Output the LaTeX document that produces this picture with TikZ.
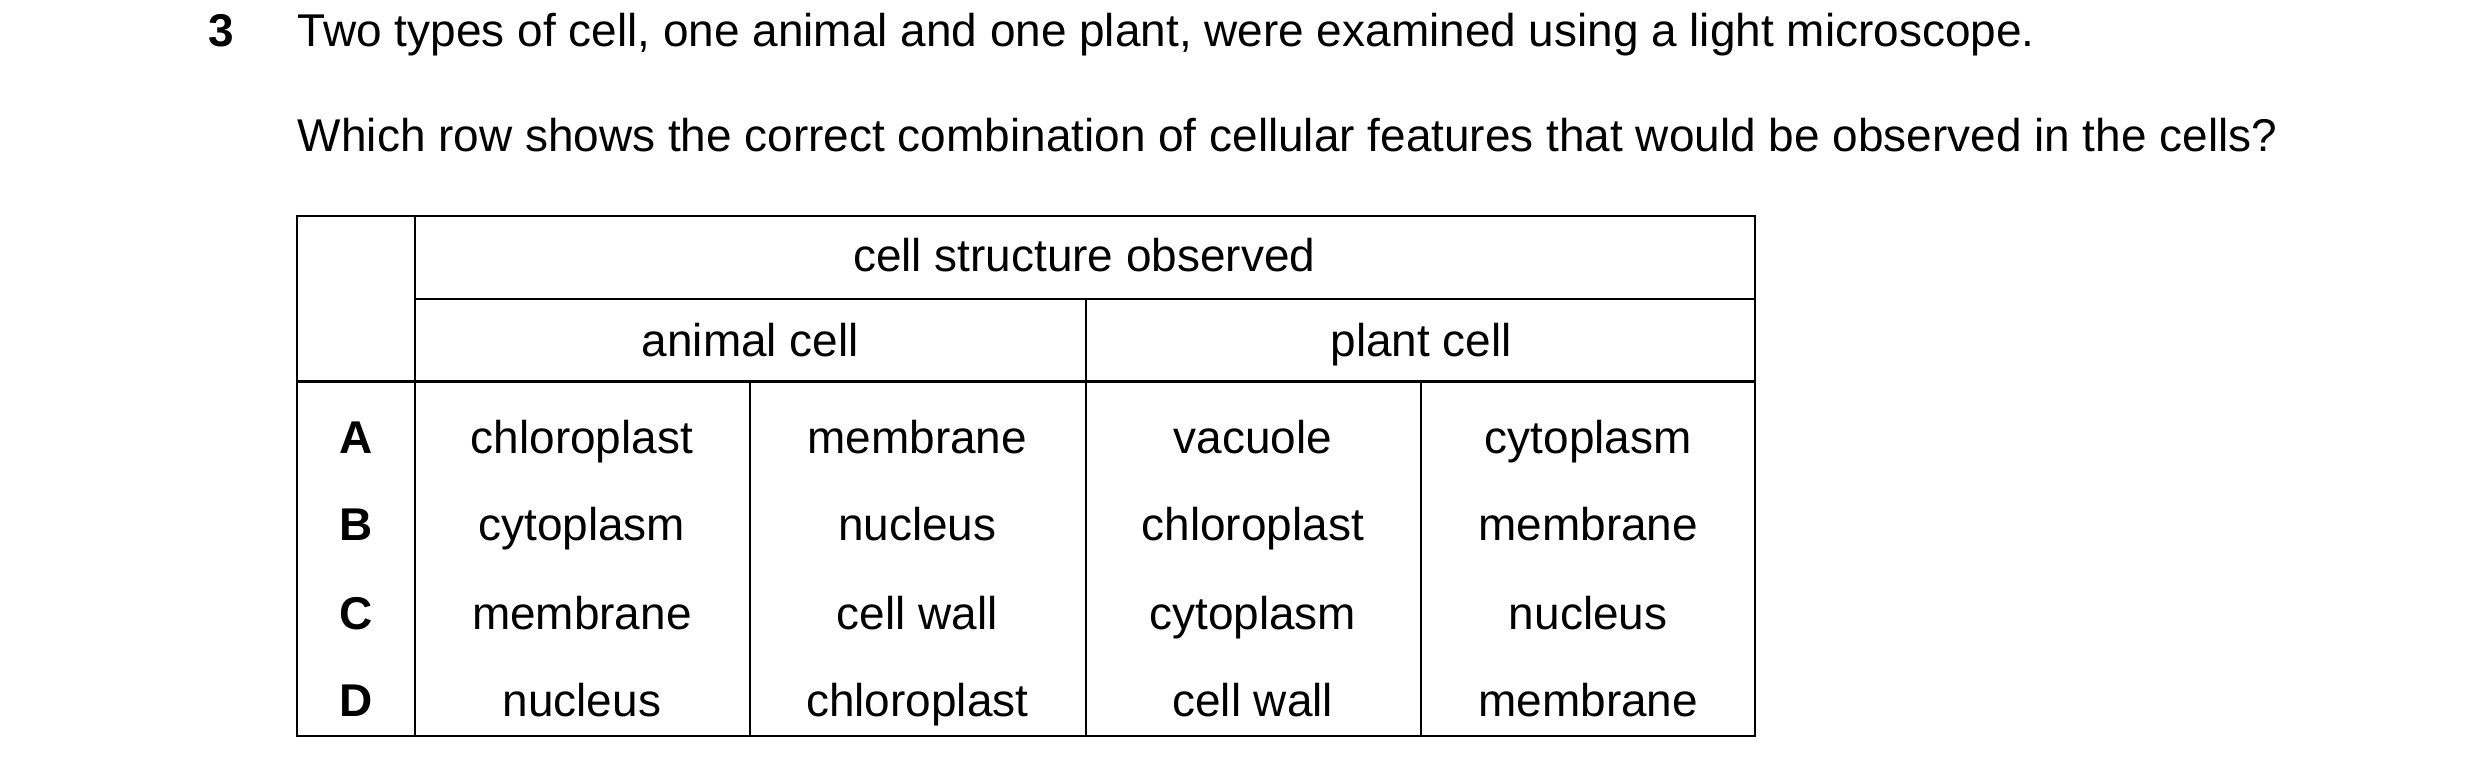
\documentclass[tikz,border=0pt]{standalone}
\usepackage{fontspec}
\setmainfont{Liberation Sans}
\begin{document}
\begin{tikzpicture}[x=0.01581cm,y=-0.01581cm,
  txt/.style={font=\fontsize{13pt}{15pt}\selectfont,inner sep=0pt,anchor=base},
  key/.style={txt,font=\fontsize{13pt}{15pt}\selectfont\bfseries},
  rule/.style={line width=0.6pt}]
\useasboundingbox (0,0) rectangle (1560,486);

% question
\node[key,anchor=base west] (num) at (131,29) {3};
\node[txt,anchor=base west] (q1) at (187,29) {Two types of cell, one animal and one plant, were examined using a light microscope.};
\node[txt,anchor=base west] (q2) at (187,95) {Which row shows the correct combination of cellular features that would be observed in the cells?};

% table frame
\draw[rule] (187,136) rectangle (1104,463);
\draw[rule] (261,136) -- (261,463);
\draw[rule] (261,188) -- (1104,188);
\draw[rule] (187,240) -- (1104,240);
\draw[rule] (683,188) -- (683,463);
\draw[rule] (472,240) -- (472,463) (894,240) -- (894,463);

% headings
\node[txt] (head) at (682,171) {cell structure observed};
\node[txt] (animal) at (472,224) {animal cell};
\node[txt] (plant) at (894,224) {plant cell};

% rows
\node[key] (A) at (224,285) {A};
\node[txt] (a1) at (366,285) {chloroplast};
\node[txt] (a2) at (577,285) {membrane};
\node[txt] (a3) at (788,285) {vacuole};
\node[txt] (a4) at (999,285) {cytoplasm};

\node[key] (B) at (224,340) {B};
\node[txt] (b1) at (366,340) {cytoplasm};
\node[txt] (b2) at (577,340) {nucleus};
\node[txt] (b3) at (788,340) {chloroplast};
\node[txt] (b4) at (999,340) {membrane};

\node[key] (C) at (224,396) {C};
\node[txt] (c1) at (366,396) {membrane};
\node[txt] (c2) at (577,396) {cell wall};
\node[txt] (c3) at (788,396) {cytoplasm};
\node[txt] (c4) at (999,396) {nucleus};

\node[key] (D) at (224,451) {D};
\node[txt] (d1) at (366,451) {nucleus};
\node[txt] (d2) at (577,451) {chloroplast};
\node[txt] (d3) at (788,451) {cell wall};
\node[txt] (d4) at (999,451) {membrane};
\end{tikzpicture}
\end{document}
